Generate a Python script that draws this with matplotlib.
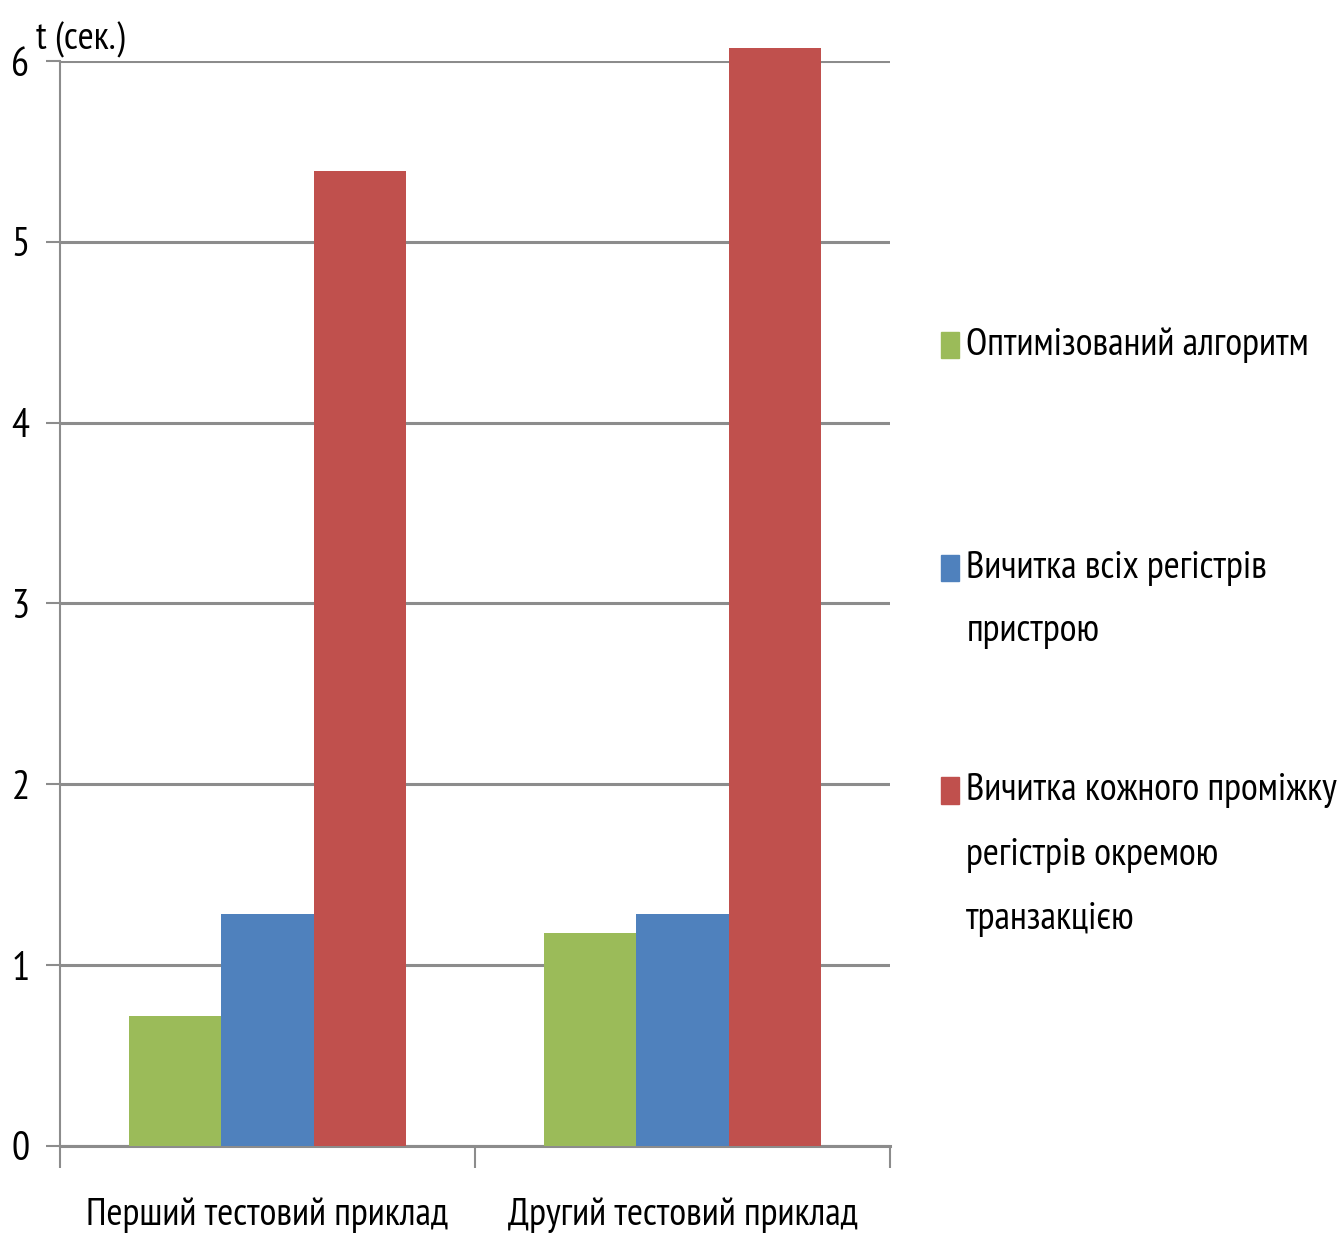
import matplotlib
matplotlib.use('Agg')
import matplotlib.pyplot as plt
from matplotlib.patches import Rectangle
import numpy as np

plt.rcParams['font.family'] = ['PT Sans Narrow', 'DejaVu Sans']

categories = ['Перший тестовий приклад', 'Другий тестовий приклад']
series_names = ['Оптимізований алгоритм',
                'Вичитка всіх регістрів\nпристрою',
                'Вичитка кожного проміжку\nрегістрів окремою\nтранзакцією']
optimized = [0.72, 1.18]
all_regs = [1.28, 1.28]
each_range = [5.39, 6.07]
colors = ['#9BBB59', '#4F81BD', '#C0504D']

fig = plt.figure(figsize=(13.44, 12.41), dpi=100)
ax = fig.add_axes([0.0446, 0.0766, 0.6176, 0.8742])

x = np.arange(len(categories))
w = 0.222
for i, vals in enumerate([optimized, all_regs, each_range]):
    ax.bar(x + (i - 1) * w, vals, w, color=colors[i], zorder=3, clip_on=False)

ax.set_xlim(-0.5, 1.5)
ax.set_ylim(0, 6)
ax.set_yticks(range(7))
ax.yaxis.grid(True, color='#8c8c8c', linewidth=2.2, zorder=0)
ax.tick_params(axis='y', length=10, width=1.5, color='#8c8c8c', labelsize=29, pad=12)

ax.set_xticks([-0.5, 0.5, 1.5])
ax.set_xticklabels([])
ax.set_xticks(x, minor=True)
ax.set_xticklabels(categories, minor=True, fontsize=28)
ax.tick_params(axis='x', which='major', length=16, width=1.5, color='#8c8c8c', direction='out')
ax.tick_params(axis='x', which='minor', length=0, pad=37)

for s in ['top', 'right']:
    ax.spines[s].set_visible(False)
ax.spines['left'].set_color('#8c8c8c')
ax.spines['left'].set_linewidth(1.5)
ax.spines['bottom'].set_color('#8c8c8c')
ax.spines['bottom'].set_linewidth(2.2)

fig.text(0.027, 0.968, 't (сек.)', fontsize=28, va='center', ha='left')

leg_y = [0.722, [0.542, 0.491], [0.363, 0.311, 0.259]]
for i, name in enumerate(series_names):
    lines = name.split('\n')
    ys = leg_y[i] if isinstance(leg_y[i], list) else [leg_y[i]]
    fig.add_artist(Rectangle((0.7, ys[0] - 0.0105), 0.0134, 0.021,
                             transform=fig.transFigure, color=colors[i]))
    for line, yy in zip(lines, ys):
        fig.text(0.719, yy, line, fontsize=28, va='center', ha='left')

fig.savefig('out.png', dpi=100)
